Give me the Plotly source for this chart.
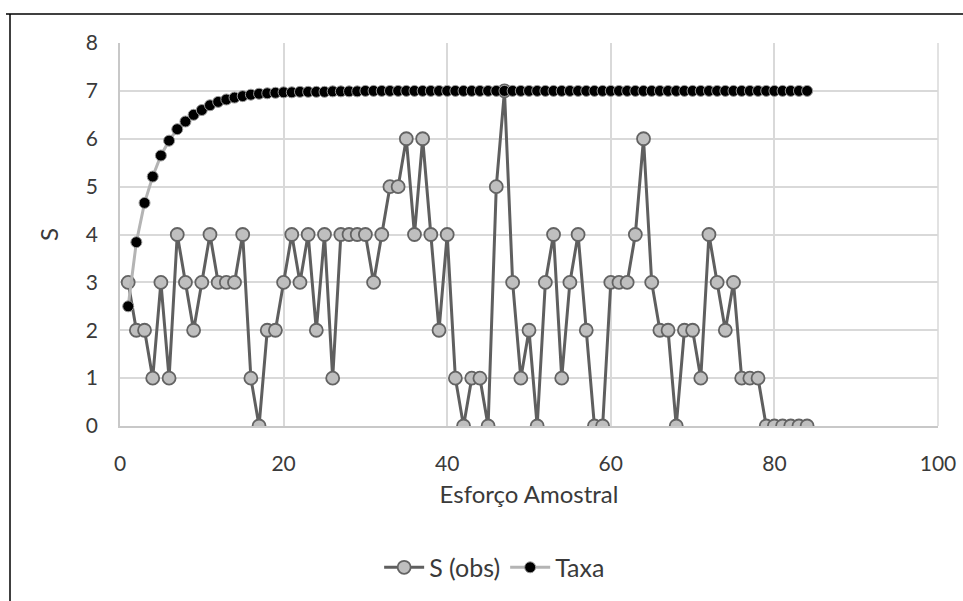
import plotly.graph_objects as go

x_vals = list(range(1, 85))
s_obs = [3, 2, 2, 1, 3, 1, 4, 3, 2, 3, 4, 3, 3, 3, 4, 1, 0, 2, 2, 3,
         4, 3, 4, 2, 4, 1, 4, 4, 4, 4, 3, 4, 5, 5, 6, 4, 6, 4, 2, 4,
         1, 0, 1, 1, 0, 5, 7, 3, 1, 2, 0, 3, 4, 1, 3, 4, 2, 0, 0, 3,
         3, 3, 4, 6, 3, 2, 2, 0, 2, 2, 1, 4, 3, 2, 3, 1, 1, 1, 0, 0,
         0, 0, 0, 0]
taxa = [2.50, 3.84, 4.66, 5.21, 5.65, 5.96, 6.20, 6.36, 6.50, 6.60,
        6.70, 6.77, 6.82, 6.86, 6.89, 6.92, 6.94, 6.95, 6.96, 6.97,
        6.97, 6.98, 6.98, 6.98, 6.98, 6.99, 6.99, 6.99, 6.99, 7.00,
        7.00, 7.00, 7.00, 7.00, 7.00, 7.00, 7.00, 7.00, 7.00, 7.00,
        7.00, 7.00, 7.00, 7.00, 7.00, 7.00, 7.00, 7.00, 7.00, 7.00,
        7.00, 7.00, 7.00, 7.00, 7.00, 7.00, 7.00, 7.00, 7.00, 7.00,
        7.00, 7.00, 7.00, 7.00, 7.00, 7.00, 7.00, 7.00, 7.00, 7.00,
        7.00, 7.00, 7.00, 7.00, 7.00, 7.00, 7.00, 7.00, 7.00, 7.00,
        7.00, 7.00, 7.00, 7.00]
x_ticks = [0, 20, 40, 60, 80, 100]
y_ticks = [0, 1, 2, 3, 4, 5, 6, 7, 8]

FONT = "Lato"
TXT = "#3a3a3a"
fig = go.Figure()
fig.add_trace(go.Scatter(
    x=x_vals, y=s_obs, name="S (obs)", mode="lines+markers",
    line=dict(color="#5f5f5f", width=3),
    marker=dict(symbol="circle", size=13, color="#bfbfbf",
                line=dict(color="#636363", width=1.8)),
))
fig.add_trace(go.Scatter(
    x=x_vals, y=taxa, name="Taxa", mode="lines+markers",
    line=dict(color="#b4b4b4", width=3),
    marker=dict(symbol="circle", size=11, color="#000000",
                line=dict(color="#9a9a9a", width=1)),
))

fig.update_layout(
    width=963, height=601,
    margin=dict(l=120, r=25, t=43, b=174),
    paper_bgcolor="white", plot_bgcolor="white",
    font=dict(family=FONT, size=21, color=TXT),
    showlegend=True,
    legend=dict(orientation="h", x=0.458, xanchor="center", y=-0.366,
                yanchor="middle", font=dict(family=FONT, size=25, color=TXT),
                itemwidth=40, tracegroupgap=0),
    xaxis=dict(range=[0, 100], tickvals=x_ticks, ticktext=[str(v) for v in x_ticks],
               showgrid=True, gridcolor="#d9d9d9", gridwidth=1.5,
               showline=True, linecolor="#c8c8c8", linewidth=1.5,
               zeroline=False, ticks="", ticklabelstandoff=18, automargin=False,
               title=dict(text="Esforço Amostral", standoff=12,
                          font=dict(family=FONT, size=24, color=TXT)),
               tickfont=dict(family=FONT, size=21, color=TXT)),
    yaxis=dict(range=[0, 8], tickvals=y_ticks,
               showgrid=True, gridcolor="#d9d9d9", gridwidth=1.5,
               showline=True, linecolor="#c8c8c8", linewidth=1.5,
               zeroline=False, ticks="", ticklabelstandoff=16, automargin=False,
               title=dict(text="S", standoff=20,
                          font=dict(family=FONT, size=24, color=TXT)),
               tickfont=dict(family=FONT, size=21, color=TXT)),
    shapes=[
        dict(type="line", xref="x domain", yref="y domain", x0=1.0, x1=1.0, y0=0, y1=1,
             line=dict(color="#d9d9d9", width=1.5), layer="below"),
        dict(type="line", xref="paper", yref="paper",
             x0=(6 - 120) / 818, x1=(975 - 120) / 818,
             y0=(427 - 14) / 384, y1=(427 - 14) / 384,
             line=dict(color="#000000", width=1.5)),
        dict(type="line", xref="paper", yref="paper",
             x0=(10 - 120) / 818, x1=(10 - 120) / 818,
             y0=(427 - 14) / 384, y1=(427 - 620) / 384,
             line=dict(color="#000000", width=1.5)),
    ],
)

fig.write_html("out.html")
